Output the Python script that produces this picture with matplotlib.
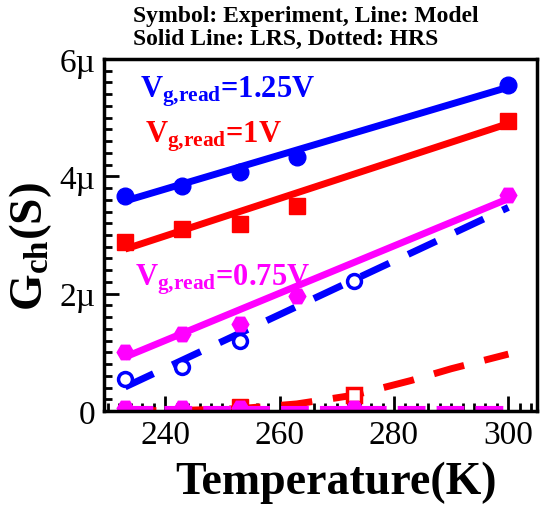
import matplotlib
matplotlib.use("Agg")
import matplotlib.pyplot as plt
from matplotlib.ticker import MultipleLocator, FuncFormatter

plt.rcParams['font.family'] = ['Liberation Serif', 'DejaVu Serif']
plt.rcParams['mathtext.fontset'] = 'custom'
plt.rcParams['mathtext.rm'] = 'Liberation Serif:bold'
plt.rcParams['mathtext.bf'] = 'Liberation Serif:bold'
plt.rcParams['mathtext.it'] = 'Liberation Serif:bold'

# experiment (symbols), in uS
T_lrs = [233, 243, 253, 263, 300]
g125_lrs = [3.66, 3.83, 4.07, 4.33, 5.56]
g100_lrs = [2.88, 3.10, 3.19, 3.49, 4.94]
g075_lrs = [1.00, 1.31, 1.48, 1.96, 3.68]

T_hrs125 = [233, 243, 253, 273]
g125_hrs = [0.54, 0.75, 1.19, 2.21]
T_hrs100 = [253, 273]
g100_hrs = [0.06, 0.27]
T_hrs075 = [233, 243, 253, 273]
g075_hrs = [0.05, 0.05, 0.05, 0.05]

# model (lines)
T_model = [233, 300]
m125_lrs = [3.58, 5.52]
m100_lrs = [2.76, 4.90]
m075_lrs = [0.92, 3.62]
m125_hrs = [0.41, 3.47]
T_model_red = [233, 243, 253, 263, 273, 283, 290, 300]
m100_hrs = [0.0, 0.01, 0.04, 0.12, 0.27, 0.52, 0.72, 0.97]
m075_hrs = [0.0, 0.0]

blue, red, mag = '#0000ff', '#ff0000', '#ff00ff'
lw = 5
ms = 11

fig = plt.figure(figsize=(5.4, 5.06), dpi=100)
ax = fig.add_axes([0.1926, 0.1858, 0.8018, 0.6956])

# HRS (dashed)
ax.plot(T_model_red, m100_hrs, color=red, lw=lw, dashes=(4.5, 3))
ax.plot(T_hrs100[:1], g100_hrs[:1], 's', color=red, ms=ms)
ax.plot(T_hrs100[1:], g100_hrs[1:], 's', color=red, mfc='white', mew=2.5, ms=ms - 1)
ax.plot(T_model, m125_hrs, color=blue, lw=lw, dashes=(4.5, 3))
ax.plot(T_hrs125, g125_hrs, 'o', color=blue, mfc='white', mew=2.5, ms=ms - 1)
ax.plot(T_model, m075_hrs, color=mag, lw=lw + 3, dashes=(2.5, 1))
ax.plot(T_hrs075, g075_hrs, 'H', color=mag, ms=ms + 1)

# LRS (solid)
ax.plot(T_model, m125_lrs, color=blue, lw=lw, solid_capstyle='butt')
ax.plot(T_lrs, g125_lrs, 'o', color=blue, ms=ms + 1)
ax.plot(T_model, m100_lrs, color=red, lw=lw, solid_capstyle='butt')
ax.plot(T_lrs, g100_lrs, 's', color=red, ms=ms)
ax.plot(T_model, m075_lrs, color=mag, lw=lw, solid_capstyle='butt')
ax.plot(T_lrs, g075_lrs, 'H', color=mag, ms=ms + 1)

ax.set_xlim(229.3, 305)
ax.set_ylim(0, 6)
ax.xaxis.set_major_locator(MultipleLocator(20))
ax.xaxis.set_minor_locator(MultipleLocator(2))
ax.yaxis.set_major_locator(MultipleLocator(2))
ax.yaxis.set_minor_locator(MultipleLocator(0.2))
ax.yaxis.set_major_formatter(FuncFormatter(lambda v, p: '0' if v == 0 else f'{v:g}\u00b5'))
ax.tick_params(which='both', direction='in', width=2, top=False, right=False,
               labelsize=24, pad=6)
ax.tick_params(which='major', length=11)
ax.tick_params(which='minor', length=6)
for s in ax.spines.values():
    s.set_linewidth(2.5)

ax.set_xlabel('Temperature(K)', fontsize=33, fontweight='bold')
ax.xaxis.set_label_coords(0.536, -0.14)
ax.set_ylabel(r'$\mathbf{G_{ch}(S)}$', fontsize=34)
ax.yaxis.set_label_coords(-0.115, 0.47)

ax.text(0.083, 0.958, r'$\mathbf{V_{g{,}read}}$=1.25V', transform=ax.transAxes, color=blue,
        fontsize=22, fontweight='bold', va='top')
ax.text(0.095, 0.83, r'$\mathbf{V_{g{,}read}}$=1V', transform=ax.transAxes, color=red,
        fontsize=22, fontweight='bold', va='top')
ax.text(0.072, 0.424, r'$\mathbf{V_{g{,}read}}$=0.75V', transform=ax.transAxes, color=mag,
        fontsize=22, fontweight='bold', va='top')

fig.text(0.246, 0.988, 'Symbol: Experiment, Line: Model\nSolid Line: LRS, Dotted: HRS',
         fontsize=17, fontweight='bold', va='top', ha='left', linespacing=1.12)

fig.savefig('out.png', dpi=100)
